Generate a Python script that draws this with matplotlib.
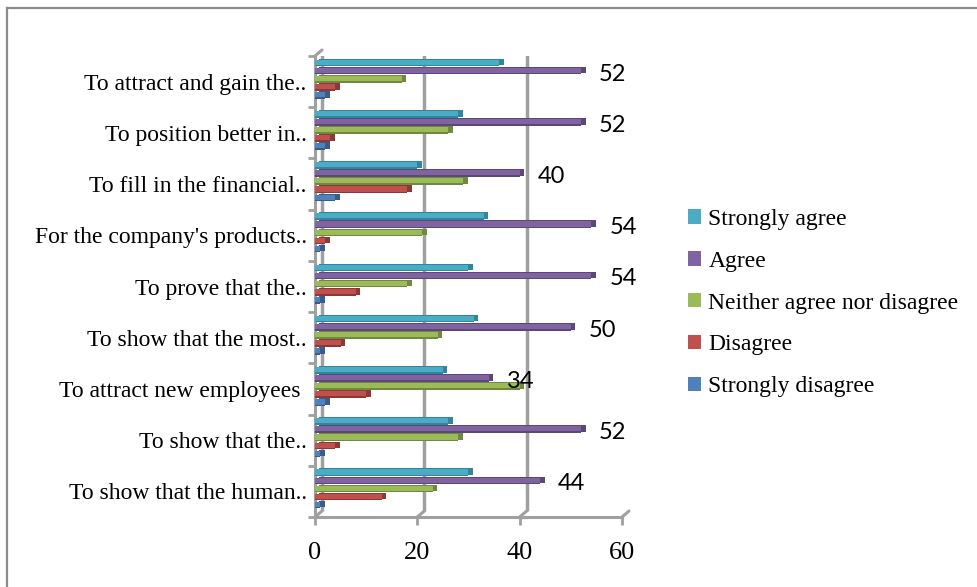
import matplotlib
matplotlib.use("Agg")
import matplotlib.pyplot as plt
import matplotlib.transforms as mtransforms
from matplotlib.lines import Line2D
from matplotlib.patches import Patch
import numpy as np

# ---- data (top-to-bottom as shown in the chart) ----
categories = [
    "To attract and gain the..",
    "To position better in..",
    "To fill in the financial..",
    "For the company's products..",
    "To prove that the..",
    "To show that the most..",
    "To attract new employees ",
    "To show that the..",
    "To show that the human..",
]
strongly_disagree = [2, 2, 4, 1, 1, 1, 2, 1, 1]
disagree = [4, 3, 18, 2, 8, 5, 10, 4, 13]
neither = [17, 26, 29, 21, 18, 24, 40, 28, 23]
agree = [52, 52, 40, 54, 54, 50, 34, 52, 44]
strongly_agree = [36, 28, 20, 33, 30, 31, 25, 26, 30]
series_names = ["Strongly disagree", "Disagree", "Neither agree nor disagree",
                "Agree", "Strongly agree"]
xticks = [0, 20, 40, 60]

series_values = [strongly_disagree, disagree, neither, agree, strongly_agree]
colors = ["#4F81BD", "#C0504D", "#9BBB59", "#8064A2", "#4BACC6"]
dark = ["#385D8A", "#8C3836", "#71893F", "#5C4776", "#31859C"]

W, H = 978, 587
fig = plt.figure(figsize=(W / 100, H / 100), dpi=100)
serif = "Liberation Serif"
gray = "#A0A0A0"

ax = fig.add_axes([315 / W, 1 - 517 / H, 307 / W, 461 / H])
n = len(categories)
ypos = np.arange(n)[::-1]  # top category gets highest y
ax.set_xlim(0, 60)
ax.set_ylim(-0.5, n - 0.5)

# back-wall offset (3D look)
dx, dy = 7, 6
back = ax.transData + mtransforms.ScaledTranslation(dx / 100, dy / 100, fig.dpi_scale_trans)
for xv in xticks:
    ax.plot([xv, xv], [-0.5, n - 0.5], color=gray, lw=2.5, transform=back, zorder=1,
            solid_capstyle="butt")
    ax.annotate("", xy=(xv, -0.5), xytext=(dx, dy), textcoords="offset pixels",
                arrowprops=dict(arrowstyle="-", color=gray, lw=2.2, shrinkA=0, shrinkB=0),
                zorder=1)
ax.annotate("", xy=(0, n - 0.5), xytext=(dx, dy), textcoords="offset pixels",
            arrowprops=dict(arrowstyle="-", color=gray, lw=2.2, shrinkA=0, shrinkB=0), zorder=1)

# bars
pitch = 0.158
shift = 0.047
bh = 0.13
cap = ax.transData + mtransforms.ScaledTranslation(4.5 / 100, 1.0 / 100, fig.dpi_scale_trans)
offsets = [-2, -1, 0, 1, 2]
for k, (vals, c, dc, name) in enumerate(zip(series_values, colors, dark, series_names)):
    yy = ypos + offsets[k] * pitch + shift
    z = 3 + k * 0.1
    ax.barh(yy, vals, height=bh, color=dc, transform=cap, zorder=z)
    ax.barh(yy, vals, height=bh, color=c, linewidth=0, zorder=z + 0.02, label=name)
    ax.barh(yy - bh / 2 + 0.015, vals, height=0.03, color=dc, linewidth=0, zorder=z + 0.04)

# data labels for Agree
yy_agree = ypos + offsets[3] * pitch + shift
for v, y in zip(agree, yy_agree):
    ax.annotate(str(v), xy=(v, y), xytext=(18, -3), textcoords="offset pixels",
                ha="left", va="center", fontsize=17, family="Lato", color="black",
                zorder=6)

# axes styling
for s in ["top", "right"]:
    ax.spines[s].set_visible(False)
for s in ["left", "bottom"]:
    ax.spines[s].set_color(gray)
    ax.spines[s].set_linewidth(2.2)
    ax.spines[s].set_zorder(2)

ax.set_xticks(xticks)
ax.set_xticklabels([str(t) for t in xticks], fontsize=19, family=serif)
ax.tick_params(axis="x", length=6, width=2, color=gray, pad=12)

ax.set_yticks(ypos)
ax.set_yticklabels(categories, fontsize=17, family=serif)
ax.set_yticks(np.arange(-0.5, n, 1.0), minor=True)
ax.tick_params(axis="y", which="major", length=0, pad=6)
ax.tick_params(axis="y", which="minor", length=5, width=2, color=gray)
ax.patch.set_visible(False)

# legend (reverse order)
handles = [Patch(facecolor=c) for c in colors][::-1]
labels = series_names[::-1]
fig.legend(handles, labels, loc="upper left", bbox_to_anchor=(688 / W, 1 - 209 / H),
           frameon=False, prop={"family": serif, "size": 17},
           handlelength=0.56, handleheight=0.56, handletextpad=0.3, labelspacing=0.88,
           borderaxespad=0, borderpad=0)

# outer border (partially visible)
bc = "#8C8C8C"
fig.add_artist(Line2D([7 / W, 1], [1 - 8 / H, 1 - 8 / H], transform=fig.transFigure,
                      color=bc, lw=1.6))
fig.add_artist(Line2D([7 / W, 7 / W], [0, 1 - 8 / H], transform=fig.transFigure,
                      color=bc, lw=1.6))

fig.savefig("out.png", dpi=100)
